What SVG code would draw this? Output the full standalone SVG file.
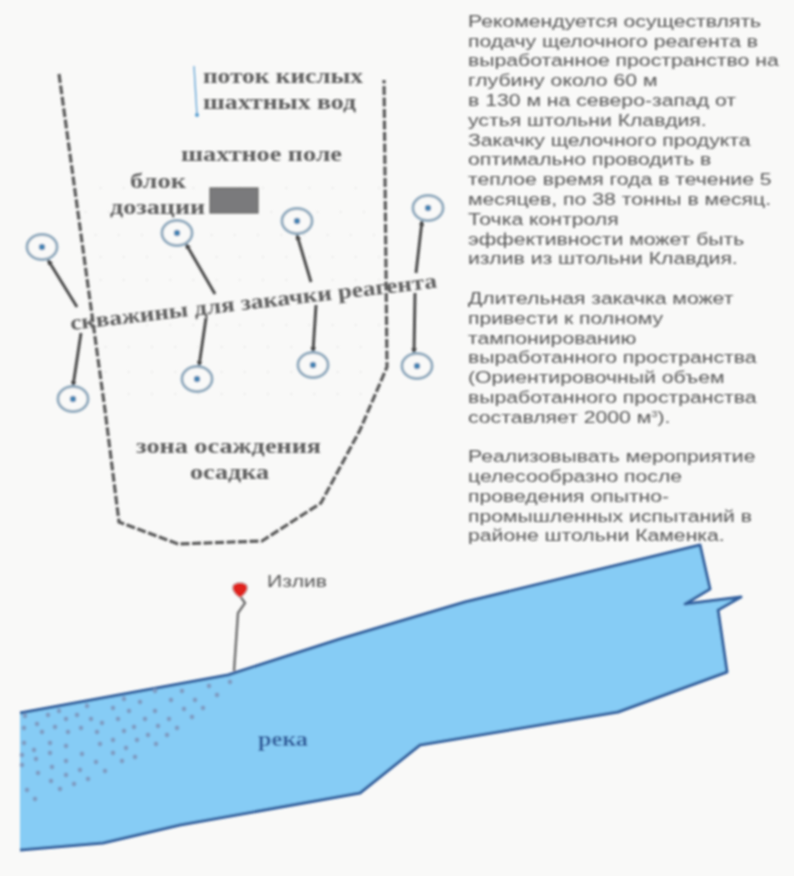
<svg xmlns="http://www.w3.org/2000/svg" width="794" height="876" viewBox="0 0 794 876">
<defs>
<filter id="soft" x="-5%" y="-5%" width="110%" height="110%"><feGaussianBlur stdDeviation="0.85"/></filter>
<marker id="tip" viewBox="0 0 6 6" refX="5" refY="3" markerWidth="1.9" markerHeight="1.9" orient="auto"><path d="M0 0L6 3L0 6Z" fill="#444"/></marker>
<style>
.body{font-family:"Liberation Sans",Arial,sans-serif;font-size:17px;fill:#555}
.lab{font-family:"Liberation Serif","Times New Roman",serif;font-size:21.5px;fill:#5e5e5e;font-weight:bold}
.well{fill:#f9f9f8;stroke:#93acbf;stroke-width:3}
.core{fill:#4a86b4}
.lead{stroke:#4e4e4e;stroke-width:3;fill:none;marker-end:url(#tip)}
.dash{stroke:#5a5a5a;stroke-width:3.2;fill:none;stroke-dasharray:9 2.5}
.rd{fill:#7f9dc4}
</style>
</defs>
<rect width="794" height="876" fill="#f9f9f8"/>
<g filter="url(#soft)">
<g id="field-dots">
<path d="M100 188h280M85 212h295M95 235h285M100 257h285M100 280h285M100 325h285M105 347h280M105 372h270M105 394h260" stroke="#ccc" stroke-width="1.2" stroke-dasharray="1.2 22" fill="none"/>
</g>
<g id="river">
<path d="M20 713L228 675L340 639L465 602L700 545L710 589L685 604L741 597L718 610L727 672L618 712L420 745L360 793L180 825L103 843L20 850Z" fill="#86ccf5"/>
<path d="M20 713L228 675L340 639L465 602L700 545L710 589L685 604L741 597L718 610L727 672L618 712L420 745L360 793L180 825L103 843L20 850" fill="none" stroke="#33609f" stroke-width="3" stroke-linejoin="round"/>
<g class="rd">
<circle cx="25" cy="716" r="2.4"/><circle cx="48" cy="715" r="2.4"/><circle cx="59" cy="711" r="2.4"/><circle cx="87" cy="706" r="2.4"/><circle cx="124" cy="699" r="2.4"/><circle cx="155" cy="691" r="2.4"/><circle cx="182" cy="691" r="2.4"/><circle cx="209" cy="686" r="2.4"/><circle cx="230" cy="682" r="2.4"/>
<circle cx="37" cy="724" r="2.4"/><circle cx="66" cy="719" r="2.4"/><circle cx="77" cy="715" r="2.4"/><circle cx="113" cy="708" r="2.4"/><circle cx="140" cy="702" r="2.4"/><circle cx="171" cy="700" r="2.4"/><circle cx="195" cy="700" r="2.4"/><circle cx="217" cy="695" r="2.4"/>
<circle cx="24" cy="728" r="2.4"/><circle cx="55" cy="727" r="2.4"/><circle cx="81" cy="728" r="2.4"/><circle cx="91" cy="719" r="2.4"/><circle cx="102" cy="723" r="2.4"/><circle cx="118" cy="719" r="2.4"/><circle cx="129" cy="711" r="2.4"/><circle cx="145" cy="719" r="2.4"/><circle cx="155" cy="711" r="2.4"/><circle cx="169" cy="719" r="2.4"/><circle cx="184" cy="709" r="2.4"/><circle cx="203" cy="708" r="2.4"/><circle cx="192" cy="717" r="2.4"/>
<circle cx="42" cy="732" r="2.4"/><circle cx="68" cy="732" r="2.4"/><circle cx="97" cy="732" r="2.4"/><circle cx="124" cy="731" r="2.4"/><circle cx="134" cy="727" r="2.4"/><circle cx="148" cy="735" r="2.4"/><circle cx="158" cy="726" r="2.4"/><circle cx="167" cy="735" r="2.4"/><circle cx="177" cy="728" r="2.4"/>
<circle cx="24" cy="743" r="2.4"/><circle cx="50" cy="743" r="2.4"/><circle cx="66" cy="746" r="2.4"/><circle cx="100" cy="744" r="2.4"/><circle cx="113" cy="740" r="2.4"/><circle cx="137" cy="740" r="2.4"/><circle cx="156" cy="744" r="2.4"/><circle cx="126" cy="748" r="2.4"/>
<circle cx="22" cy="755" r="2.4"/><circle cx="34" cy="750" r="2.4"/><circle cx="36" cy="759" r="2.4"/><circle cx="50" cy="753" r="2.4"/><circle cx="66" cy="761" r="2.4"/><circle cx="82" cy="754" r="2.4"/><circle cx="113" cy="753" r="2.4"/><circle cx="122" cy="761" r="2.4"/><circle cx="135" cy="757" r="2.4"/>
<circle cx="22" cy="765" r="2.4"/><circle cx="38" cy="773" r="2.4"/><circle cx="52" cy="767" r="2.4"/><circle cx="66" cy="775" r="2.4"/><circle cx="80" cy="770" r="2.4"/><circle cx="96" cy="762" r="2.4"/><circle cx="105" cy="771" r="2.4"/>
<circle cx="51" cy="781" r="2.4"/><circle cx="88" cy="779" r="2.4"/><circle cx="74" cy="784" r="2.4"/><circle cx="60" cy="789" r="2.4"/><circle cx="27" cy="790" r="2.4"/><circle cx="35" cy="799" r="2.4"/>
</g>
<text x="258" y="746" class="lab" style="fill:#33609f" textLength="50" lengthAdjust="spacingAndGlyphs">река</text>
</g>
<g id="outlet">
<path d="M234 671L238 613L245 603L240 596" fill="none" stroke="#777" stroke-width="2.6" stroke-linejoin="round"/>
<path d="M240 598C236 595 232 591 232.5 587C233 581 247 581 247.5 587C248 591 244 595 240 598Z" fill="#e0201a" stroke="#bbb" stroke-width="1"/>
<text x="267" y="587" font-family="Liberation Sans, Arial, sans-serif" font-size="16" fill="#555" textLength="60" lengthAdjust="spacingAndGlyphs">Излив</text>
</g>
<g id="connectors">
<path class="dash" d="M59 74L105 410L119 522L178 544L262 541L321 503L360 430L387 367L384 80"/>
<path d="M194 66L197 115" stroke="#6aa8d8" stroke-width="1.4" fill="none"/>
<circle cx="197" cy="115" r="2" fill="#5a9fd0"/>
<path class="lead" d="M77 307L48 260"/><path class="lead" d="M81 333L73 386"/>
<path class="lead" d="M215 294L186 244"/><path class="lead" d="M206 318L199 366"/>
<path class="lead" d="M311 282L297 235"/><path class="lead" d="M316 305L313 352"/>
<path class="lead" d="M416 273L422 221"/><path class="lead" d="M415 293L414 353"/>
</g>
<g id="well-1"><ellipse class="well" cx="42" cy="247" rx="15" ry="12.5"/><circle class="core" cx="42" cy="247" r="3.2"/></g>
<g id="well-2"><ellipse class="well" cx="177" cy="233" rx="15" ry="12.5"/><circle class="core" cx="177" cy="233" r="3.2"/></g>
<g id="well-3"><ellipse class="well" cx="297" cy="221" rx="15" ry="12.5"/><circle class="core" cx="297" cy="221" r="3.2"/></g>
<g id="well-4"><ellipse class="well" cx="428" cy="208" rx="15" ry="12.5"/><circle class="core" cx="428" cy="208" r="3.2"/></g>
<g id="well-5"><ellipse class="well" cx="73" cy="399" rx="15" ry="12.5"/><circle class="core" cx="73" cy="399" r="3.2"/></g>
<g id="well-6"><ellipse class="well" cx="197" cy="379" rx="15" ry="12.5"/><circle class="core" cx="197" cy="379" r="3.2"/></g>
<g id="well-7"><ellipse class="well" cx="313" cy="365" rx="15" ry="12.5"/><circle class="core" cx="313" cy="365" r="3.2"/></g>
<g id="well-8"><ellipse class="well" cx="417" cy="366" rx="15" ry="12.5"/><circle class="core" cx="417" cy="366" r="3.2"/></g>
<g id="dosing-block">
<rect x="210" y="188" width="48" height="25" fill="#7a7a7c" stroke="#666" stroke-width="1.2"/>
<text class="lab" x="130" y="188" textLength="56" lengthAdjust="spacingAndGlyphs">блок</text>
<text class="lab" x="110" y="214" textLength="95" lengthAdjust="spacingAndGlyphs">дозации</text>
</g>
<g id="labels">
<text class="lab" x="203" y="83" textLength="160" lengthAdjust="spacingAndGlyphs">поток кислых</text>
<text class="lab" x="203" y="109" textLength="153" lengthAdjust="spacingAndGlyphs">шахтных вод</text>
<text class="lab" x="181" y="161" textLength="161" lengthAdjust="spacingAndGlyphs">шахтное поле</text>
<text class="lab" transform="translate(71 330) rotate(-6.6)" textLength="369" lengthAdjust="spacingAndGlyphs">скважины для закачки реагента</text>
<text class="lab" x="136" y="453" textLength="185" lengthAdjust="spacingAndGlyphs">зона осаждения</text>
<text class="lab" x="190" y="479" textLength="79" lengthAdjust="spacingAndGlyphs">осадка</text>
</g>
<g id="note" class="body" transform="translate(468 0) scale(1.247 1)">
<text y="27">Рекомендуется осуществлять</text>
<text y="47">подачу щелочного реагента в</text>
<text y="66">выработанное пространство на</text>
<text y="86">глубину около 60 м</text>
<text y="106">в 130 м на северо-запад от</text>
<text y="126">устья штольни Клавдия.</text>
<text y="146">Закачку щелочного продукта</text>
<text y="165">оптимально проводить в</text>
<text y="185">теплое время года в течение 5</text>
<text y="205">месяцев, по 38 тонны в месяц.</text>
<text y="225">Точка контроля</text>
<text y="245">эффективности может быть</text>
<text y="264">излив из штольни Клавдия.</text>
<text y="304">Длительная закачка может</text>
<text y="324">привести к полному</text>
<text y="344">тампонированию</text>
<text y="363">выработанного пространства</text>
<text y="383">(Ориентировочный объем</text>
<text y="403">выработанного пространства</text>
<text y="423">составляет 2000 м<tspan font-size="9" dy="-6">3</tspan><tspan dy="6">).</tspan></text>
<text y="462">Реализовывать мероприятие</text>
<text y="482">целесообразно после</text>
<text y="502">проведения опытно-</text>
<text y="522">промышленных испытаний в</text>
<text y="541">районе штольни Каменка.</text>
</g>
</g>
</svg>
